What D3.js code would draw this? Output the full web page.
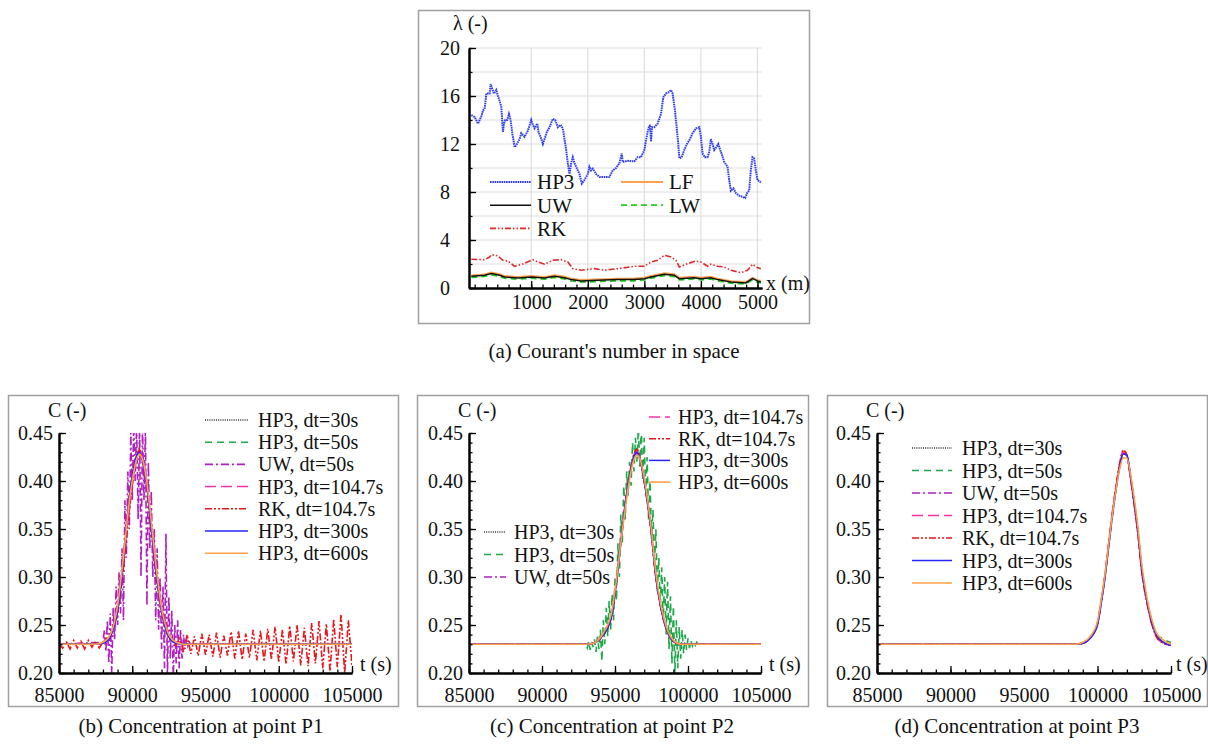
<!DOCTYPE html>
<html>
<head>
<meta charset="utf-8">
<script src="https://cdn.jsdelivr.net/npm/d3@7"></script>
</head>
<body style="margin:0">
<svg id="fig" width="1208" height="747"></svg>
<script>
// ---------- (a) Courant's number in space ----------
var courantTicksX = [1000, 2000, 3000, 4000, 5000];
var courantTicksY = [0, 4, 8, 12, 16, 20];

var hp3X = [-59, 0, 59, 118, 147, 176, 206, 265, 282, 341, 382, 412, 441, 471, 500, 518, 541, 576, 606, 635, 665, 706, 735, 794, 824, 882, 941, 1000, 1029, 1059, 1106, 1129, 1165, 1206, 1235, 1276, 1324, 1382, 1424, 1471, 1518, 1559, 1618, 1647, 1676, 1706, 1735, 1765, 1824, 1853, 1894, 1941, 2000, 2029, 2059, 2088, 2147, 2206, 2294, 2382, 2441, 2500, 2559, 2600, 2618, 2706, 2824, 2882, 2941, 3000, 3029, 3071, 3100, 3118, 3135, 3176, 3235, 3294, 3335, 3382, 3424, 3471, 3500, 3541, 3571, 3600, 3618, 3659, 3706, 3753, 3794, 3853, 3912, 3971, 4000, 4029, 4071, 4118, 4147, 4176, 4206, 4235, 4276, 4306, 4341, 4365, 4412, 4471, 4500, 4529, 4576, 4618, 4676, 4735, 4782, 4824, 4853, 4882, 4912, 4941, 4971, 5000, 5059];
var hp3L = [14.4, 14.25, 13.7, 14.3, 14.8, 14.9, 16.2, 16.2, 17.0, 16.2, 16.5, 16.0, 15.6, 15.1, 13.0, 13.7, 14.0, 14.0, 14.5, 14.0, 12.9, 11.75, 11.9, 12.4, 12.9, 12.6, 13.1, 14.0, 13.6, 13.3, 13.7, 13.0, 12.6, 12.0, 12.4, 13.0, 13.4, 14.1, 14.0, 13.4, 13.6, 13.3, 11.5, 10.4, 9.5, 10.4, 10.9, 10.4, 9.8, 9.5, 8.7, 9.0, 9.5, 10.1, 9.8, 9.95, 9.5, 9.25, 9.25, 9.25, 9.8, 10.0, 10.4, 11.2, 10.5, 10.6, 10.55, 10.9, 10.9, 11.5, 12.3, 13.3, 13.6, 12.2, 13.4, 13.4, 13.7, 14.5, 15.9, 16.2, 16.3, 16.5, 16.2, 14.8, 13.4, 12.0, 10.8, 10.9, 11.5, 12.0, 12.3, 12.9, 13.3, 13.4, 12.6, 11.2, 10.9, 10.9, 11.3, 12.4, 12.0, 11.5, 11.75, 12.0, 11.5, 11.2, 10.5, 10.1, 9.0, 8.1, 8.3, 7.9, 7.7, 7.6, 7.5, 8.0, 8.1, 9.8, 10.9, 10.8, 9.8, 9.0, 8.8];

var rkX = [-59, 176, 265, 294, 412, 500, 588, 706, 824, 1029, 1118, 1235, 1382, 1529, 1647, 1735, 1882, 2118, 2294, 2529, 2824, 3000, 3118, 3235, 3353, 3471, 3559, 3618, 3765, 3912, 4000, 4118, 4176, 4294, 4412, 4529, 4706, 4824, 4912, 5000, 5059];
var rkL = [2.39, 2.36, 2.58, 2.78, 2.67, 2.31, 2.25, 1.81, 1.95, 2.36, 2.17, 1.98, 2.31, 2.36, 2.17, 1.61, 1.48, 1.61, 1.48, 1.61, 1.81, 1.81, 2.17, 2.31, 2.72, 2.58, 2.31, 1.75, 2.03, 2.25, 2.17, 1.81, 1.98, 1.81, 1.75, 1.48, 1.28, 1.48, 1.98, 1.70, 1.61];

var lowX = [-59, 176, 294, 441, 529, 765, 1000, 1235, 1412, 1588, 1706, 1882, 2176, 2529, 2824, 3000, 3118, 3353, 3529, 3618, 3882, 4000, 4176, 4294, 4529, 4794, 4912, 5000, 5059];
var uwL = [0.97, 1.06, 1.20, 1.06, 0.92, 0.84, 0.92, 0.84, 0.98, 0.86, 0.70, 0.59, 0.64, 0.70, 0.70, 0.78, 0.92, 1.14, 1.06, 0.78, 0.86, 0.78, 0.86, 0.70, 0.50, 0.42, 0.78, 0.59, 0.50];
var lfL = [1.05, 1.14, 1.29, 1.15, 1.00, 0.92, 1.00, 0.93, 1.06, 0.95, 0.78, 0.67, 0.72, 0.78, 0.79, 0.86, 1.00, 1.23, 1.15, 0.86, 0.94, 0.86, 0.94, 0.78, 0.58, 0.50, 0.86, 0.67, 0.58];
var lwL = [0.88, 0.96, 1.10, 0.96, 0.82, 0.74, 0.82, 0.74, 0.88, 0.76, 0.60, 0.49, 0.54, 0.60, 0.60, 0.68, 0.82, 1.04, 0.96, 0.68, 0.76, 0.68, 0.76, 0.60, 0.40, 0.33, 0.68, 0.49, 0.40];

// ---------- (b)-(d) concentration ----------
var concTicksX = [85000, 90000, 95000, 100000, 105000];
var concTicksY = [0.20, 0.25, 0.30, 0.35, 0.40, 0.45];

// P1
var tB = [85000, 87500, 88000, 88500, 88750, 89000, 89250, 89500, 89750, 90000, 90250, 90500, 90750, 91000, 91250, 91500, 91750, 92000, 92500, 93000, 93500, 105000];
var hp30B = [.230, .230, .231, .238, .247, .264, .293, .333, .374, .405, .425, .431, .419, .394, .358, .320, .289, .264, .238, .231, .230, .230];
var hp50B = [.230, .230, .231, .238, .248, .265, .294, .334, .375, .406, .425, .431, .418, .394, .359, .321, .289, .264, .238, .231, .230, .230];
var hp104B = [.230, .230, .231, .239, .249, .266, .296, .336, .376, .406, .425, .432, .419, .396, .361, .323, .291, .266, .239, .231, .230, .230];
var hp300B = [.230, .230, .231, .238, .248, .265, .295, .335, .375, .405, .424, .430, .418, .395, .360, .322, .290, .265, .238, .231, .230, .230];
var hp600B = [.230, .230, .232, .240, .251, .270, .300, .336, .372, .400, .420, .428, .420, .398, .365, .328, .295, .268, .240, .232, .230, .230];
// UW dt=50 oscillates, every 100 s from 88000
var uw50B_t0 = 88000, uw50B_dt = 100;
var uw50B = [.232, .245, .222, .255, .210, .262, .200, .268, .235, .290, .250, .305, .262, .330, .255, .380, .320, .410, .350, .450, .380, .460, .400, .460, .360, .460, .300, .460, .380, .455, .270, .420, .330, .390, .300, .350, .255, .330, .245, .300, .225, .290, .205, .345, .195, .280, .215, .265, .195, .250, .210, .255, .205, .245, .215, .240, .225, .235, .228, .232, .230];
// RK dt=104.7, every 250 s from 85000
var rk104B_t0 = 85000, rk104B_dt = 250;
var rk104B = [.232, .226, .233, .225, .234, .226, .233, .225, .234, .227, .233, .226, .232,
  .236, .238, .252, .262, .292, .322, .362, .396, .422, .433, .418, .397, .362, .330, .296, .268, .252, .238, .236, .229, .236,
  .222, .240, .220, .238, .218, .241, .219, .240, .217, .242, .216, .239, .218, .243, .215, .244, .214, .241, .216, .245, .213, .244, .212, .246, .214, .248, .211, .245, .209, .249, .212, .250, .208, .247, .207, .252, .210, .254, .205, .251, .202, .256, .206, .261, .200, .255, .208];

// P2
var tC = [85000, 93000, 93500, 94000, 94250, 94500, 94750, 95000, 95250, 95500, 95750, 96000, 96250, 96500, 96750, 97000, 97250, 97500, 97750, 98000, 98500, 99000, 99500, 105000];
var hp30C = [.230, .230, .231, .236, .241, .247, .258, .282, .314, .349, .380, .406, .424, .431, .420, .399, .374, .344, .305, .279, .246, .233, .230, .230];
var uw50C = [.230, .230, .231, .236, .242, .248, .259, .284, .316, .351, .381, .405, .422, .429, .421, .401, .376, .346, .307, .281, .247, .233, .230, .230];
var hp104C = [.230, .230, .231, .237, .242, .248, .259, .284, .316, .352, .382, .407, .425, .432, .421, .400, .374, .344, .305, .279, .246, .233, .230, .230];
var rk104C = [.230, .230, .231, .236, .241, .247, .258, .283, .316, .351, .382, .407, .425, .433, .422, .400, .374, .344, .306, .280, .247, .233, .230, .230];
var hp300C = [.230, .230, .231, .236, .241, .247, .258, .283, .315, .350, .380, .405, .423, .430, .420, .400, .375, .345, .306, .280, .247, .233, .230, .230];
var hp600C = [.230, .230, .231, .237, .243, .250, .262, .286, .316, .348, .377, .402, .420, .427, .421, .403, .378, .348, .310, .283, .249, .234, .230, .230];
// HP3 dt=50 oscillates, every 100 s from 93000
var hp50C_t0 = 93000, hp50C_dt = 100;
var hp50C = [.230, .226, .233, .224, .232, .227, .235, .222, .238, .225, .245, .212, .255, .230, .268, .238, .275, .245, .282, .255,
  .300, .275, .335, .300, .365, .335, .395, .360, .410, .385, .420, .395, .440, .410, .445, .420, .455, .415, .455, .400,
  .445, .385, .425, .360, .400, .340, .370, .310, .350, .285, .320, .270, .310, .255, .300, .240, .295, .225, .280, .210,
  .270, .198, .255, .205, .248, .215, .245, .220, .240, .224, .236, .226, .234, .228, .233, .229, .232, .229, .231, .230, .230];

// P3
var tD = [85000, 98500, 99000, 99500, 100000, 100250, 100500, 100750, 101000, 101250, 101500, 101750, 102000, 102250, 102500, 102750, 103000, 103250, 103500, 103750, 104000, 104500, 105000];
var hp30D = [.230, .230, .231, .237, .252, .274, .300, .332, .364, .392, .416, .429, .426, .403, .376, .346, .308, .284, .264, .249, .239, .231, .229];
var hp50D = [.230, .230, .231, .237, .252, .274, .300, .332, .364, .392, .415, .428, .426, .404, .377, .347, .309, .285, .266, .251, .241, .235, .232];
var uw50D = [.230, .230, .231, .237, .251, .273, .299, .331, .363, .391, .415, .429, .427, .404, .377, .347, .309, .284, .264, .249, .239, .231, .229];
var hp104D = [.230, .230, .231, .237, .252, .275, .301, .333, .365, .393, .417, .431, .427, .403, .375, .345, .307, .283, .263, .248, .238, .231, .229];
var rk104D = [.230, .230, .231, .237, .252, .275, .301, .334, .366, .394, .418, .432, .427, .402, .374, .344, .306, .282, .263, .248, .238, .231, .229];
var hp300D = [.230, .230, .231, .236, .250, .272, .298, .330, .362, .390, .414, .428, .427, .405, .378, .348, .310, .285, .265, .250, .240, .232, .229];
var hp600D = [.230, .230, .232, .238, .254, .276, .302, .333, .364, .390, .412, .424, .424, .407, .382, .352, .315, .289, .268, .253, .242, .234, .230];

var concBase = 0.23;

const SERIF = "Liberation Serif";

// line styles
const styles = {
    hp30: { label: "HP3, dt=30s", color: "#333", dash: "1,1.2", w: 1.3 },
    hp50: { label: "HP3, dt=50s", color: "#1fa84a", dash: "7,5", w: 1.6 },
    uw50: { label: "UW, dt=50s", color: "#b01fc0", dash: "8,3,2,3", w: 1.6 },
    hp104: { label: "HP3, dt=104.7s", color: "#ff2fa5", dash: "11,5", w: 1.5 },
    rk104: { label: "RK, dt=104.7s", color: "#e8151b", dash: "7,2,2,2,2,2", w: 1.6 },
    hp300: { label: "HP3, dt=300s", color: "#2424ff", dash: null, w: 1.5 },
    hp600: { label: "HP3, dt=600s", color: "#ffa044", dash: null, w: 1.6 }
};

var svg = d3.select("#fig");

function zip(xs, ys) {
    let out = [];
    for (let i = 0; i < Math.min(xs.length, ys.length); i++) out.push([xs[i], ys[i]]);
    return out;
}

function regular(t0, dt, ys, base) {
    let out = [[85000, base]];
    ys.forEach(function(v, i) { out.push([t0 + i * dt, v]); });
    out.push([105000, base]);
    return out.filter(function(d, i, a) { return i == 0 || d[0] > a[i - 1][0]; });
}

function txt(g, x, y, s, size) {
    return g.append("text").attr("x", x).attr("y", y)
        .attr("font-size", size).attr("fill", "#111")
        .style("font-family", SERIF).text(s);
}

function drawBox(b) {
    svg.append("rect")
        .attr("x", b[0]).attr("y", b[1])
        .attr("width", b[2] - b[0]).attr("height", b[3] - b[1])
        .attr("fill", "none").attr("stroke", "#a0a0a0").attr("stroke-width", 1.5);
}

function styleAxis(g) {
    g.attr("font-family", SERIF);
    g.select(".domain").attr("stroke", "#000").attr("stroke-width", 2);
    g.selectAll(".tick line").attr("stroke", "#000").attr("stroke-width", 1.3);
    g.selectAll("text").attr("font-size", 20).attr("fill", "#111").style("font-family", SERIF);
}

function addLegend(g, entries, x0, y0, step, len, gap, fs) {
    entries.forEach(function(e, i) {
        let y = y0 + i * step;
        g.append("line")
            .attr("x1", x0).attr("x2", x0 + len).attr("y1", y).attr("y2", y)
            .attr("stroke", e.color).attr("stroke-width", e.w)
            .attr("stroke-dasharray", e.dash);
        txt(g, x0 + len + gap, y, e.label, fs).attr("dy", "0.35em");
    });
}

// ---------- panel (a) ----------
function drawCourant() {
    drawBox([418.5, 10.5, 809.5, 323.5]);
    let x = d3.scaleLinear().domain([-100, 5080]).range([469, 762]);
    let y = d3.scaleLinear().domain([0, 20]).range([288, 48]);
    let g = svg.append("g");

    // grid
    g.selectAll("line.hgrid").data(d3.range(2, 21, 2)).enter()
        .append("line").attr("class", "hgrid")
        .attr("x1", 469).attr("x2", 762)
        .attr("y1", function(d) { return y(d); }).attr("y2", function(d) { return y(d); })
        .attr("stroke", "#dedede").attr("stroke-width", 1.2);
    g.selectAll("line.vgrid").data(courantTicksX).enter()
        .append("line").attr("class", "vgrid")
        .attr("x1", function(d) { return x(d); }).attr("x2", function(d) { return x(d); })
        .attr("y1", 48).attr("y2", 288)
        .attr("stroke", "#dedede").attr("stroke-width", 1.2);

    g.append("clipPath").attr("id", "clipA").append("rect")
        .attr("x", 469).attr("y", 48).attr("width", 293).attr("height", 240);

    let line = d3.line().x(function(d) { return x(d[0]); }).y(function(d) { return y(d[1]); });
    let series = [
        { data: zip(lowX, lwL), color: "#22cc22", dash: "6,4", w: 1.8 },
        { data: zip(lowX, lfL), color: "#ffa050", dash: null, w: 1.8 },
        { data: zip(lowX, uwL), color: "#111", dash: null, w: 1.5 },
        { data: zip(rkX, rkL), color: "#e02828", dash: "6,2,1.5,2,1.5,2", w: 1.6 },
        { data: zip(hp3X, hp3L), color: "#2f3ff0", dash: "1.6,0.7", w: 2 }
    ];
    series.forEach(function(s) {
        g.append("path").attr("d", line(s.data))
            .attr("clip-path", "url(#clipA)")
            .attr("fill", "none").attr("stroke", s.color)
            .attr("stroke-width", s.w).attr("stroke-dasharray", s.dash);
    });

    // axes
    let xa = g.append("g").attr("transform", "translate(0,288)")
        .call(d3.axisBottom(x).tickValues(d3.range(0, 5001, 200)).tickFormat("").tickSize(-3.5).tickSizeOuter(0));
    styleAxis(xa);
    let xb = g.append("g").attr("transform", "translate(0,288)")
        .call(d3.axisBottom(x).tickValues(courantTicksX).tickFormat(d3.format("d")).tickSize(-7).tickSizeOuter(0).tickPadding(7));
    styleAxis(xb);
    let ya = g.append("g").attr("transform", "translate(469,0)")
        .call(d3.axisLeft(y).tickValues(d3.range(0, 21, 2)).tickFormat("").tickSize(-3.5).tickSizeOuter(0));
    styleAxis(ya);
    let yb = g.append("g").attr("transform", "translate(469,0)")
        .call(d3.axisLeft(y).tickValues(courantTicksY).tickFormat(d3.format("d")).tickSize(-7).tickSizeOuter(0));
    styleAxis(yb);
    yb.selectAll("text").attr("text-anchor", "start").attr("x", -29);

    txt(g, 453, 30, "λ (-)", 20);
    txt(g, 766, 290, "x (m)", 20);

    addLegend(g, [
        { label: "HP3", color: "#2f3ff0", dash: "1.6,0.7", w: 2 },
        { label: "UW", color: "#111", dash: null, w: 1.5 },
        { label: "RK", color: "#e02828", dash: "6,2,1.5,2,1.5,2", w: 1.6 }
    ], 490, 182, 23.2, 41, 6, 21);
    addLegend(g, [
        { label: "LF", color: "#ffa050", dash: null, w: 1.8 },
        { label: "LW", color: "#22cc22", dash: "6,4", w: 1.8 }
    ], 621, 182, 23.2, 42, 6, 21);

    txt(svg, 614, 358, "(a) Courant's number in space", 21).attr("text-anchor", "middle");
}

// ---------- panels (b)-(d) ----------
function drawConc(p) {
    drawBox(p.box);
    let x = d3.scaleLinear().domain([85000, 105000]).range([p.x0, p.x1]);
    let y = d3.scaleLinear().domain([0.20, 0.45]).range([673, 433]);
    let g = svg.append("g");

    g.append("clipPath").attr("id", p.id).append("rect")
        .attr("x", p.x0).attr("y", 433).attr("width", p.x1 - p.x0).attr("height", 240);

    let line = d3.line().x(function(d) { return x(d[0]); }).y(function(d) { return y(d[1]); });
    p.series.forEach(function(s) {
        let st = styles[s.key];
        g.append("path").attr("d", line.curve(s.noisy ? d3.curveLinear : d3.curveMonotoneX)(s.data))
            .attr("clip-path", "url(#" + p.id + ")")
            .attr("fill", "none").attr("stroke", st.color)
            .attr("stroke-width", st.w).attr("stroke-dasharray", st.dash);
    });

    let xa = g.append("g").attr("transform", "translate(0,673)")
        .call(d3.axisBottom(x).tickValues(d3.range(85000, 105001, 1000)).tickFormat("").tickSize(-3.5).tickSizeOuter(0));
    styleAxis(xa);
    let xb = g.append("g").attr("transform", "translate(0,673)")
        .call(d3.axisBottom(x).tickValues(concTicksX).tickFormat(d3.format("d")).tickSize(-7).tickSizeOuter(0).tickPadding(15));
    styleAxis(xb);
    let ya = g.append("g").attr("transform", "translate(" + p.x0 + ",0)")
        .call(d3.axisLeft(y).tickValues(d3.range(20, 46, 1).map(function(v) { return v / 100; })).tickFormat("").tickSize(-3.5).tickSizeOuter(0));
    styleAxis(ya);
    let yb = g.append("g").attr("transform", "translate(" + p.x0 + ",0)")
        .call(d3.axisLeft(y).tickValues(concTicksY).tickFormat(d3.format(".2f")).tickSize(-7).tickSizeOuter(0));
    styleAxis(yb);
    yb.selectAll("text").attr("text-anchor", "start").attr("x", -41);

    txt(g, p.x0 - 11, 417, "C (-)", 20);
    txt(g, p.x1 + p.tGap, 671, "t (s)", 20);

    p.legends.forEach(function(L) {
        addLegend(g, L.keys.map(function(k) { return styles[k]; }), L.x, L.y, L.step, L.len, L.gap, 20);
    });

    txt(svg, p.capX, 733, p.caption, 21).attr("text-anchor", "middle");
}

drawCourant();

drawConc({
    id: "clipB", box: [8.5, 395.5, 398.5, 706.5], x0: 59, x1: 352, capX: 201, tGap: 8,
    caption: "(b) Concentration at point P1",
    series: [
        { key: "hp30", data: zip(tB, hp30B) },
        { key: "hp50", data: zip(tB, hp50B) },
        { key: "uw50", data: regular(uw50B_t0, uw50B_dt, uw50B, concBase), noisy: true },
        { key: "hp104", data: zip(tB, hp104B) },
        { key: "rk104", data: regular(rk104B_t0, rk104B_dt, rk104B, concBase), noisy: true },
        { key: "hp300", data: zip(tB, hp300B) },
        { key: "hp600", data: zip(tB, hp600B) }
    ],
    legends: [{ keys: ["hp30", "hp50", "uw50", "hp104", "rk104", "hp300", "hp600"], x: 205, y: 420, step: 22.2, len: 43, gap: 10 }]
});

drawConc({
    id: "clipC", box: [417.5, 395.5, 808.5, 706.5], x0: 469, x1: 761, capX: 612, tGap: 8,
    caption: "(c) Concentration at point P2",
    series: [
        { key: "hp30", data: zip(tC, hp30C) },
        { key: "hp50", data: regular(hp50C_t0, hp50C_dt, hp50C, concBase), noisy: true },
        { key: "uw50", data: zip(tC, uw50C) },
        { key: "hp104", data: zip(tC, hp104C) },
        { key: "rk104", data: zip(tC, rk104C) },
        { key: "hp300", data: zip(tC, hp300C) },
        { key: "hp600", data: zip(tC, hp600C) }
    ],
    legends: [
        { keys: ["hp104", "rk104", "hp300", "hp600"], x: 649, y: 417, step: 21.7, len: 21, gap: 8 },
        { keys: ["hp30", "hp50", "uw50"], x: 484, y: 532, step: 22.5, len: 22, gap: 8 }
    ]
});

drawConc({
    id: "clipD", box: [827.5, 395.5, 1207.5, 706.5], x0: 877, x1: 1171, capX: 1017, tGap: 5,
    caption: "(d) Concentration at point P3",
    series: [
        { key: "hp30", data: zip(tD, hp30D) },
        { key: "hp50", data: zip(tD, hp50D) },
        { key: "uw50", data: zip(tD, uw50D) },
        { key: "hp104", data: zip(tD, hp104D) },
        { key: "rk104", data: zip(tD, rk104D) },
        { key: "hp300", data: zip(tD, hp300D) },
        { key: "hp600", data: zip(tD, hp600D) }
    ],
    legends: [{ keys: ["hp30", "hp50", "uw50", "hp104", "rk104", "hp300", "hp600"], x: 912, y: 448, step: 22.5, len: 40, gap: 10 }]
});
</script>
</body>
</html>
